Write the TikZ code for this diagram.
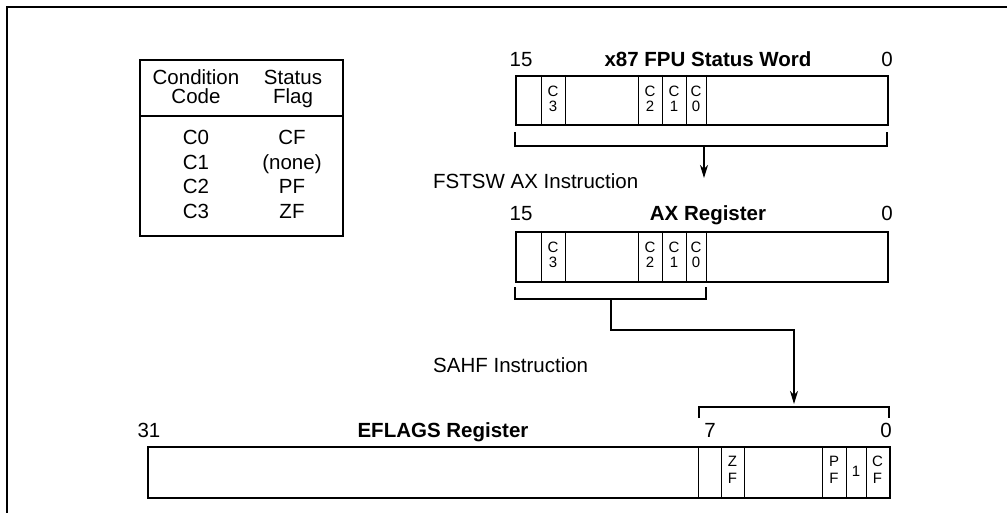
\documentclass[tikz,border=0pt]{standalone}
\usepackage{fontspec}
\setmainfont{Liberation Sans}
\usetikzlibrary{arrows.meta}
\begin{document}
\begin{tikzpicture}[x=1pt,y=-1pt,
  lbl/.style={font=\fontsize{20.5}{24}\selectfont, inner sep=0},
  ttl/.style={font=\fontsize{20.5}{24}\selectfont\bfseries, inner sep=0},
  bit/.style={font=\fontsize{15}{15}\selectfont, inner sep=0, align=center},
  regbox/.style={draw, line width=2.3pt, inner sep=0, minimum height=50pt, anchor=north west},
  cellline/.style={line width=1pt},
  brk/.style={line width=1.3pt},
  arr/.style={line width=1.3pt, -{Stealth[length=13pt,width=8pt,inset=4pt]}},
]
\useasboundingbox (0,0) rectangle (1007,513);
% frame
\draw[line width=2.8pt] (7,513) -- (7,7) -- (1007,7);

% condition code table
\node[draw, line width=2pt, minimum width=203pt, minimum height=176pt, inner sep=0, anchor=north west] (tbl) at (139,59) {};
\draw[line width=1.5pt] (139,116) -- (342,116);
\node[lbl, anchor=base] (h1a) at (196,85) {Condition};
\node[lbl, anchor=base] (h1b) at (196,104) {Code};
\node[lbl, anchor=base] (h2a) at (293,85) {Status};
\node[lbl, anchor=base] (h2b) at (293,104) {Flag};
\node[lbl, anchor=base] (c0) at (196,145) {C0};
\node[lbl, anchor=base] (c1) at (196,170) {C1};
\node[lbl, anchor=base] (c2) at (196,194) {C2};
\node[lbl, anchor=base] (c3) at (196,219) {C3};
\node[lbl, anchor=base] (f0) at (292,145) {CF};
\node[lbl, anchor=base] (f1) at (292,170) {(none)};
\node[lbl, anchor=base] (f2) at (292,194) {PF};
\node[lbl, anchor=base] (f3) at (292,219) {ZF};

% x87 FPU status word
\node[lbl, anchor=base] (fpu15) at (521,67) {15};
\node[ttl, anchor=base] (fputitle) at (708,67) {x87 FPU Status Word};
\node[lbl, anchor=base] (fpu0) at (887,67) {0};
\node[regbox, minimum width=372pt, minimum height=49pt] (fpu) at (515,75) {};
\foreach \x in {541,565,638,662,686,706} \draw[cellline] (\x,75) -- (\x,124);
\node[bit] (fc3) at (553,99) {C\\3};
\node[bit] (fc2) at (650,99) {C\\2};
\node[bit] (fc1) at (674,99) {C\\1};
\node[bit] (fc0) at (696,99) {C\\0};
\draw[brk] (515,132) -- (515,146) -- (887,146) -- (887,132);
\coordinate (b1) at (704,146);
\coordinate (t1) at (704,178);
\draw[arr] (b1) -- (t1);
\node[lbl, anchor=base west] (fstsw) at (433,189) {FSTSW AX Instruction};

% AX register
\node[lbl, anchor=base] (ax15) at (521,221) {15};
\node[ttl, anchor=base] (axtitle) at (708,221) {AX Register};
\node[lbl, anchor=base] (ax0) at (887,221) {0};
\node[regbox, minimum width=372pt, minimum height=50pt] (ax) at (515,231) {};
\foreach \x in {541,565,638,662,686,706} \draw[cellline] (\x,231) -- (\x,281);
\node[bit] (ac3) at (553,255) {C\\3};
\node[bit] (ac2) at (650,255) {C\\2};
\node[bit] (ac1) at (674,255) {C\\1};
\node[bit] (ac0) at (696,255) {C\\0};
\draw[brk] (515,287) -- (515,299) -- (706,299) -- (706,287);
\coordinate (b2) at (611,299);
\coordinate (t2) at (794,404);
\draw[arr] (b2) -- (611,330) -- (794,330) -- (t2);
\node[lbl, anchor=base west] (sahf) at (433,372) {SAHF Instruction};

% EFLAGS register
\draw[brk] (699,418) -- (699,407) -- (889,407) -- (889,418);
\node[lbl, anchor=base] (ef31) at (149,437) {31};
\node[ttl, anchor=base] (eftitle) at (443,437) {EFLAGS Register};
\node[lbl, anchor=base] (ef7) at (710,437) {7};
\node[lbl, anchor=base] (ef0) at (886,437) {0};
\node[regbox, minimum width=742pt, minimum height=51pt] (efl) at (147,446) {};
\foreach \x in {698,721,744,822,846,866} \draw[cellline] (\x,446) -- (\x,497);
\node[bit, font=\fontsize{15}{16.5}\selectfont] (ezf) at (732.5,470) {Z\\F};
\node[bit, font=\fontsize{15}{16.5}\selectfont] (epf) at (834,470) {P\\F};
\node[bit] (eone) at (856,471) {1};
\node[bit, font=\fontsize{15}{16.5}\selectfont] (ecf) at (877.5,470) {C\\F};
\end{tikzpicture}
\end{document}
